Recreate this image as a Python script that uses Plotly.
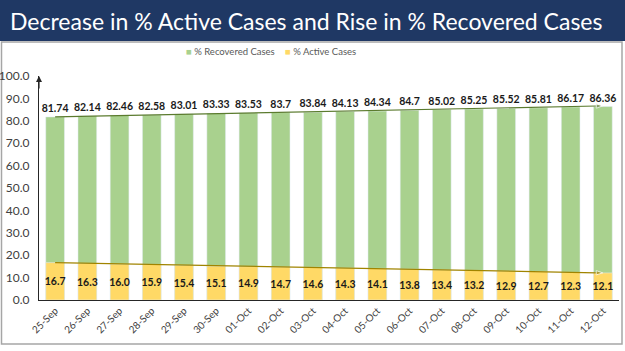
import plotly.graph_objects as go

dates = ["25-Sep", "26-Sep", "27-Sep", "28-Sep", "29-Sep", "30-Sep", "01-Oct", "02-Oct", "03-Oct",
         "04-Oct", "05-Oct", "06-Oct", "07-Oct", "08-Oct", "09-Oct", "10-Oct", "11-Oct", "12-Oct"]
recovered = [81.74, 82.14, 82.46, 82.58, 83.01, 83.33, 83.53, 83.7, 83.84,
             84.13, 84.34, 84.7, 85.02, 85.25, 85.52, 85.81, 86.17, 86.36]
active = [16.7, 16.3, 16.0, 15.9, 15.4, 15.1, 14.9, 14.7, 14.6,
          14.3, 14.1, 13.8, 13.4, 13.2, 12.9, 12.7, 12.3, 12.1]
recovered_text = ["81.74", "82.14", "82.46", "82.58", "83.01", "83.33", "83.53", "83.7", "83.84",
                  "84.13", "84.34", "84.7", "85.02", "85.25", "85.52", "85.81", "86.17", "86.36"]
active_text = [f"{v:.1f}" for v in active]
series_names = ["% Recovered Cases", "% Active Cases"]
GREEN, YELLOW = "#A9D18E", "#FFD966"

FONT = "Lato"
L, R, T, B = 39, 6, 76, 51
W, H = 625, 351
pw, ph = W - L - R, H - T - B

def px(x):
    return (x - L) / pw

def py(y):
    return (H - B - y) / ph

fig = go.Figure()
fig.add_trace(go.Bar(
    x=dates, y=recovered, name=series_names[0], marker_color=GREEN,
    text=recovered_text, textposition="outside", cliponaxis=False, textangle=0,
    constraintext="none",
    textfont=dict(family=FONT, size=10.5, color="#1a1a1a", weight="bold"),
))
fig.add_trace(go.Bar(
    x=dates, y=active, name=series_names[1], marker_color=YELLOW,
    text=active_text, textposition="inside", insidetextanchor="middle", textangle=0,
    constraintext="none",
    textfont=dict(family=FONT, size=10.5, color="#1a1a1a", weight="bold"),
))
# trend lines
fig.add_trace(go.Scatter(
    x=[dates[0], dates[-1]], y=[recovered[0], recovered[-1] + 0.3], mode="lines+markers",
    line=dict(color="#5B7B2E", width=1.2),
    marker=dict(symbol=["circle", "arrow"], size=[0, 7], angleref="previous", color="#5B7B2E"),
    showlegend=False, hoverinfo="skip", cliponaxis=False,
))
fig.add_trace(go.Scatter(
    x=[dates[0], dates[-1]], y=[active[0], active[-1]], mode="lines+markers",
    line=dict(color="#A08400", width=1.2),
    marker=dict(symbol=["circle", "arrow"], size=[0, 7], angleref="previous", color="#A08400"),
    showlegend=False, hoverinfo="skip", cliponaxis=False,
))

shapes = [
    dict(type="rect", xref="paper", yref="paper", x0=px(0), x1=px(W), y0=py(41), y1=py(0),
         fillcolor="#1F3864", line_width=0, layer="below"),
    dict(type="rect", xref="paper", yref="paper", x0=px(1.5), x1=px(622), y0=py(344), y1=py(42),
         fillcolor="rgba(0,0,0,0)", line=dict(color="#A6A6A6", width=1.5), layer="below"),
]

annotations = [
    dict(text="Decrease in % Active Cases and Rise in % Recovered Cases", xref="paper", yref="paper",
         x=px(306), y=py(21), xanchor="center", yanchor="middle", showarrow=False,
         font=dict(family=FONT, size=23, color="white")),
    dict(text="", xref="paper", yref="paper", x=0, y=1.0, ax=0, ay=14,
         showarrow=True, arrowhead=2, arrowsize=1, arrowwidth=1.2, arrowcolor="#262626"),
    dict(text=f'<span style="color:{GREEN}">■</span> {series_names[0]}', xref="paper", yref="paper",
         x=px(184), y=py(52), xanchor="left", yanchor="middle", showarrow=False,
         font=dict(family=FONT, size=9.5, color="#595959")),
    dict(text=f'<span style="color:{YELLOW}">■</span> {series_names[1]}', xref="paper", yref="paper",
         x=px(283), y=py(52), xanchor="left", yanchor="middle", showarrow=False,
         font=dict(family=FONT, size=9.5, color="#595959")),
]

fig.update_layout(
    width=W, height=H, margin=dict(l=L, r=R, t=T, b=B, autoexpand=False),
    paper_bgcolor="white", plot_bgcolor="white",
    barmode="overlay", bargap=0.42,
    font=dict(family=FONT, color="#404040"),
    showlegend=False,
    shapes=shapes, annotations=annotations,
    xaxis=dict(type="category", tickangle=-45, tickfont=dict(family=FONT, size=10, color="#404040"),
               range=[-0.5, len(dates) - 0.5],
               showline=True, linecolor="#262626", linewidth=1.2, ticks="", showgrid=False,
               automargin=False),
    yaxis=dict(range=[0, 100], dtick=10, tickformat=".1f", showgrid=False, zeroline=False,
               showline=True, linecolor="#262626", linewidth=1.2, ticks="", ticklabelstandoff=6,
               automargin=False, tickfont=dict(family=FONT, size=12, color="#404040")),
)

fig.write_html("out.html")
